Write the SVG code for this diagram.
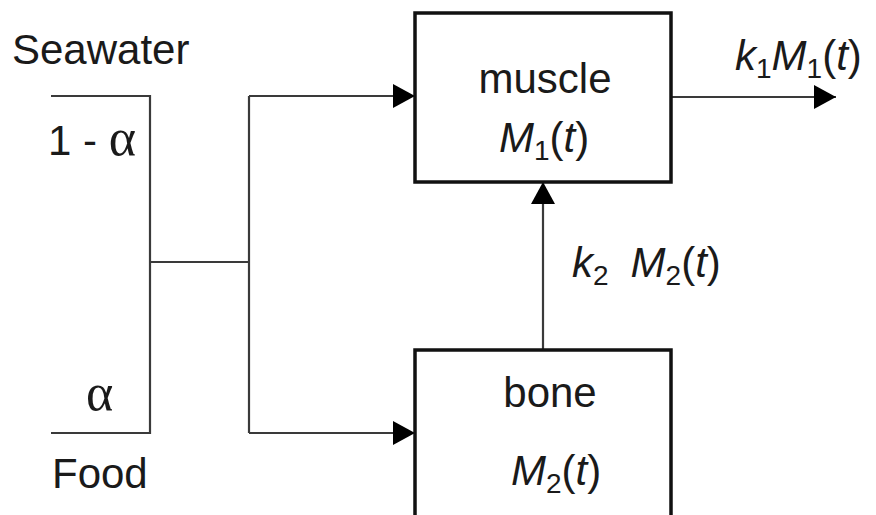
<svg xmlns="http://www.w3.org/2000/svg" width="876" height="515" viewBox="0 0 876 515">
  <style>
    text { font-family: "Liberation Sans", Arial, sans-serif; font-size: 42px; fill: #1a1a1a; }
    .it { font-style: italic; }
    .sub { font-size: 28px; font-style: normal; }
    .greek { font-family: "Liberation Serif", "DejaVu Serif", serif; font-size: 52px; }
    .box { fill: #ffffff; stroke: #111111; stroke-width: 3.5; }
    .wire { fill: none; stroke: #3a3a3a; stroke-width: 2.2; }
  </style>
  <defs>
    <marker id="arrow" markerUnits="userSpaceOnUse" markerWidth="24" markerHeight="24" viewBox="0 0 24 24" refX="22" refY="12" orient="auto">
      <path d="M0,0 L22,12 L0,24 Z" fill="#000000"/>
    </marker>
  </defs>
  <rect width="876" height="515" fill="#ffffff"/>

  <!-- feeding inputs -->
  <g id="seawater">
    <text x="12" y="64">Seawater</text>
    <text x="48" y="155">1 - <tspan class="greek">α</tspan></text>
  </g>
  <g id="food">
    <text x="86" y="410" class="greek">α</text>
    <text x="52" y="488">Food</text>
  </g>

  <!-- connectors -->
  <g id="connectors">
    <path class="wire" d="M51,96 H150 V433 H51"/>
    <path class="wire" d="M150,262 H249"/>
    <path class="wire" d="M249,96 V433"/>
    <path class="wire" d="M249,96 H415" marker-end="url(#arrow)"/>
    <path class="wire" d="M249,433 H415" marker-end="url(#arrow)"/>
    <path class="wire" d="M543,350 V182" marker-end="url(#arrow)"/>
    <path class="wire" d="M671,97 H836" marker-end="url(#arrow)"/>
  </g>

  <!-- compartments -->
  <g id="muscle">
    <rect class="box" x="415" y="13" width="256" height="169"/>
    <text x="545" y="93" text-anchor="middle">muscle</text>
    <text x="544" y="152" text-anchor="middle"><tspan class="it">M</tspan><tspan class="sub" dy="8">1</tspan><tspan dy="-8">(</tspan><tspan class="it">t</tspan>)</text>
  </g>
  <g id="bone">
    <rect class="box" x="415" y="350" width="256" height="180"/>
    <text x="550" y="407" text-anchor="middle">bone</text>
    <text x="556" y="485" text-anchor="middle"><tspan class="it">M</tspan><tspan class="sub" dy="8">2</tspan><tspan dy="-8">(</tspan><tspan class="it">t</tspan>)</text>
  </g>

  <!-- flux labels -->
  <g id="labels">
    <text x="735" y="70"><tspan class="it">k</tspan><tspan class="sub" dy="8">1</tspan><tspan class="it" dy="-8">M</tspan><tspan class="sub" dy="8">1</tspan><tspan dy="-8">(</tspan><tspan class="it">t</tspan>)</text>
    <text x="572" y="277"><tspan class="it">k</tspan><tspan class="sub" dy="8">2</tspan><tspan class="it" dy="-8" dx="22">M</tspan><tspan class="sub" dy="8">2</tspan><tspan dy="-8">(</tspan><tspan class="it">t</tspan>)</text>
  </g>
</svg>
